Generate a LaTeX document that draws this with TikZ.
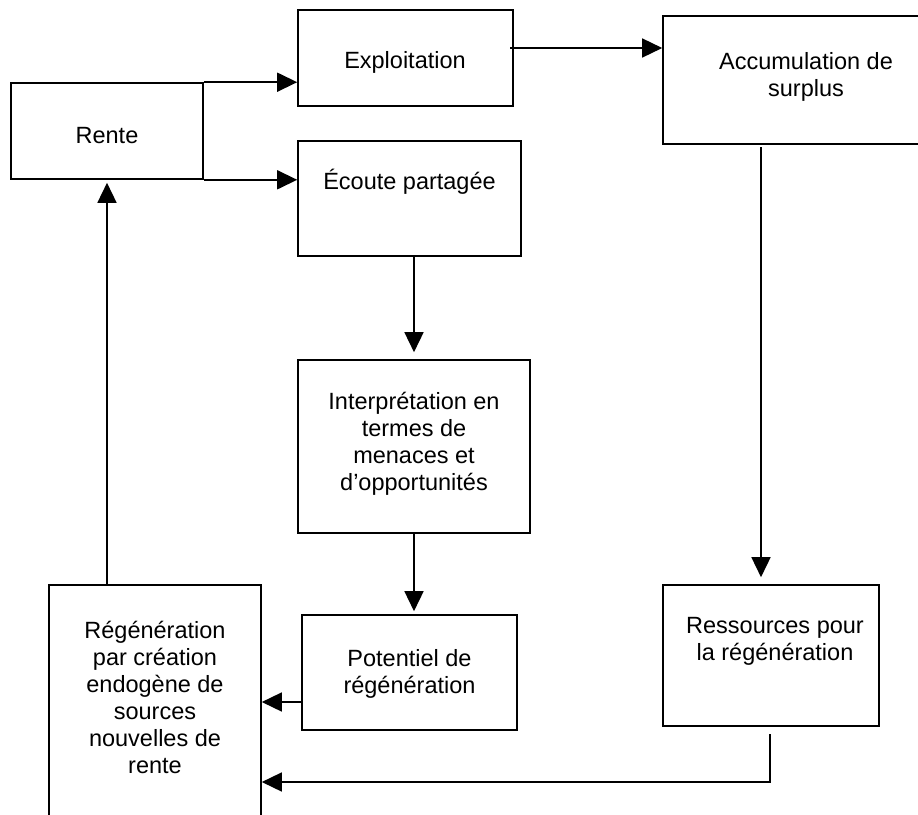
\documentclass[tikz,border=0pt]{standalone}
\usepackage{fontspec}
\setmainfont{Liberation Sans}
\usetikzlibrary{arrows.meta}
\newlength{\du}
\setlength{\du}{1pt}
\definecolor{dialinecolor}{rgb}{0.000000, 0.000000, 0.000000}

\begin{document}
\begin{tikzpicture}[
  boite/.style={draw=dialinecolor, line width=1.6\du, rectangle, inner sep=0pt},
  texte/.style={align=center, inner sep=0pt, text=dialinecolor, font=\fontsize{23.5}{27}\selectfont},
  fleche/.style={draw=dialinecolor, line width=1.5\du, -{Triangle[length=20pt,width=19pt]}}]
\pgftransformxscale{1.000000}
\pgftransformyscale{-1.000000}
\clip (0\du,0\du) rectangle (918\du,814\du);
% boites
\node[boite, minimum width=192\du, minimum height=96\du] (rente) at (107\du,131\du) {};
\node[boite, minimum width=215\du, minimum height=96\du] (exploit) at (405.5\du,58\du) {};
\node[boite, minimum width=223\du, minimum height=115\du] (ecoute) at (409.5\du,198.5\du) {};
\node[boite, minimum width=287\du, minimum height=128\du] (accum) at (806.5\du,80\du) {};
\node[boite, minimum width=232\du, minimum height=173\du] (interp) at (414\du,446.5\du) {};
\node[boite, minimum width=215\du, minimum height=115\du] (potentiel) at (409.5\du,672.5\du) {};
\node[boite, minimum width=216\du, minimum height=141\du] (ressources) at (771\du,655.5\du) {};
\node[boite, minimum width=212\du, minimum height=265\du] (regen) at (155\du,717.5\du) {};
% textes
\node[texte] (trente) at (107\du,136\du) {Rente};
\node[texte] (texploit) at (405\du,62\du) {Exploitation};
\node[texte] (tecoute) at (409.5\du,182\du) {Écoute partagée};
\node[texte] (taccum) at (806\du,77\du) {Accumulation de\\surplus};
\node[texte] (tinterp) at (414\du,443.5\du) {Interprétation en\\termes de\\menaces et\\d’opportunités};
\node[texte] (tpotentiel) at (409.5\du,673.5\du) {Potentiel de\\régénération};
\node[texte] (tressources) at (775\du,641\du) {Ressources pour\\la régénération};
\node[texte] (tregen) at (155\du,697\du) {Régénération\\par création\\endogène de\\sources\\nouvelles de\\rente};
% fleches
\coordinate (sexploit) at (510\du,48\du);
\coordinate (saccum) at (761\du,147\du);
\coordinate (sressources) at (770\du,734\du);
\coordinate (coude) at (770\du,782\du);
\coordinate (spotentiel) at (302\du,702\du);
\draw[fleche] (rente.north east) -- (rente.north east -| exploit.west);
\draw[fleche] (rente.south east) -- (rente.south east -| ecoute.west);
\draw[fleche] (sexploit) -- (sexploit -| accum.west);
\draw[fleche, shorten >=7\du] (interp.north |- ecoute.south) -- (interp.north);
\draw[fleche, shorten >=3\du] (interp.south) -- (interp.south |- potentiel.north);
\draw[fleche, shorten >=7\du] (saccum) -- (saccum |- ressources.north);
\draw[fleche] (sressources) -- (coude) -- (coude -| regen.east);
\draw[fleche] (spotentiel) -- (spotentiel -| regen.east);
\draw[fleche, shorten >=3\du] (rente.south |- regen.north) -- (rente.south);
\end{tikzpicture}
\end{document}
